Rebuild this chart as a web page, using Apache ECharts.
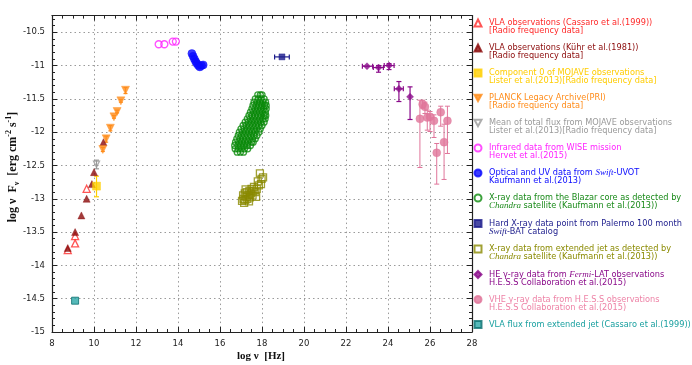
<!DOCTYPE html>
<html><head><meta charset="utf-8">
<script src="https://cdn.jsdelivr.net/npm/echarts@6/dist/echarts.min.js"></script>
<style>html,body{margin:0;padding:0;background:#fff}#c{width:692px;height:365px}</style>
</head><body><div id="c"></div>
<script>
// ---- data: [log nu, log nuFnu] ----
const cassaroData = [[8.75,-13.77],[9.1,-13.56],[9.1,-13.67],[9.65,-12.85]];
const kuhrData = [[8.75,-13.74],[9.1,-13.5],[9.4,-13.25],[9.65,-13.0],[9.9,-12.78],[10.0,-12.6],[10.45,-12.15]];
const mojaveCompData = [[10.12,-12.81]];
const mojaveCompErr = [[-12.97,-12.66]];
const planckData = [[10.42,-12.26],[10.58,-12.1],[10.78,-11.94],[10.95,-11.77],[11.1,-11.69],[11.28,-11.53],[11.5,-11.37]];
const planckErr = [[-12.29,-12.23],[-12.15,-12.06],[-11.98,-11.9],[-11.79,-11.75],[-11.71,-11.67],[-11.55,-11.51],[-11.42,-11.33]];
const mojaveMeanData = [[10.12,-12.48]];
const mojaveMeanErr = [[-12.55,-12.42]];
const wiseData = [[13.08,-10.68],[13.35,-10.68],[13.75,-10.64],[13.9,-10.64]];
const uvotData = [[14.66,-10.82],[14.72,-10.86],[14.78,-10.9],[14.84,-10.94],[14.9,-10.97],[14.97,-11.0],[15.04,-11.02],[15.12,-11.0],[15.2,-10.99]];
const chandraCoreData = [
 [17.8,-11.44],[17.92,-11.44],[18.0,-11.44],
 [17.68,-11.5],[17.82,-11.5],[17.96,-11.5],[18.1,-11.5],
 [17.62,-11.55],[17.76,-11.55],[17.9,-11.55],[18.04,-11.55],[18.17,-11.55],
 [17.57,-11.6],[17.72,-11.6],[17.86,-11.6],[18.0,-11.6],[18.12,-11.6],[18.2,-11.6],
 [17.52,-11.65],[17.66,-11.65],[17.8,-11.65],[17.95,-11.65],[18.08,-11.65],[18.2,-11.65],
 [17.45,-11.7],[17.6,-11.7],[17.74,-11.7],[17.88,-11.7],[18.02,-11.7],[18.16,-11.7],
 [17.38,-11.75],[17.52,-11.75],[17.67,-11.75],[17.82,-11.75],[17.96,-11.75],[18.1,-11.75],[18.18,-11.75],
 [17.3,-11.8],[17.45,-11.8],[17.6,-11.8],[17.75,-11.8],[17.9,-11.8],[18.04,-11.8],[18.15,-11.8],
 [17.2,-11.85],[17.35,-11.85],[17.5,-11.85],[17.65,-11.85],[17.8,-11.85],[17.95,-11.85],[18.1,-11.85],
 [17.1,-11.9],[17.25,-11.9],[17.4,-11.9],[17.55,-11.9],[17.7,-11.9],[17.85,-11.9],[18.0,-11.9],
 [17.0,-11.95],[17.15,-11.95],[17.3,-11.95],[17.45,-11.95],[17.6,-11.95],[17.75,-11.95],[17.92,-11.95],
 [16.92,-12.0],[17.07,-12.0],[17.22,-12.0],[17.37,-12.0],[17.52,-12.0],[17.67,-12.0],[17.85,-12.0],
 [16.87,-12.05],[17.02,-12.05],[17.17,-12.05],[17.32,-12.05],[17.47,-12.05],[17.62,-12.05],[17.76,-12.05],
 [16.8,-12.1],[16.95,-12.1],[17.1,-12.1],[17.25,-12.1],[17.4,-12.1],[17.55,-12.1],[17.68,-12.1],
 [16.74,-12.15],[16.89,-12.15],[17.04,-12.15],[17.19,-12.15],[17.34,-12.15],[17.5,-12.15],[17.58,-12.15],
 [16.7,-12.2],[16.85,-12.2],[17.0,-12.2],[17.15,-12.2],[17.3,-12.2],[17.45,-12.2],
 [16.72,-12.25],[16.87,-12.25],[17.02,-12.25],[17.17,-12.25],[17.32,-12.25],
 [16.82,-12.3],[16.97,-12.3],[17.12,-12.3]];
const batData = [[18.95,-10.87]];
const batErrX = [[18.6,19.3]];
const chandraJetData = [
 [17.05,-13.03],[17.12,-13.0],[17.1,-12.95],[17.2,-13.02],[17.18,-12.92],[17.25,-12.97],[17.3,-13.0],
 [17.28,-12.9],[17.35,-12.94],[17.4,-12.88],[17.42,-12.98],[17.48,-12.92],[17.5,-12.85],[17.55,-12.95],
 [17.6,-12.88],[17.62,-12.82],[17.68,-12.9],[17.72,-12.97],[17.75,-12.85],[17.15,-13.06],[17.22,-12.86],
 [17.38,-13.04],[17.8,-12.74],[17.9,-12.62],[17.95,-12.78],[18.05,-12.68],[17.98,-12.7],[17.85,-12.8]];
const fermiData = [[23.0,-11.01],[23.55,-11.03],[24.05,-11.0],[24.52,-11.35],[25.05,-11.47]];
const fermiErrX = [[22.78,23.27],[23.3,23.78],[23.82,24.29],[24.3,24.73],[null,null]];
const fermiErrY = [[null,null],[-11.1,-11.0],[-11.06,-10.97],[-11.54,-11.24],[-11.81,-11.32]];
const hessData = [[25.52,-11.8],[25.65,-11.58],[25.76,-11.62],[25.87,-11.78],[26.0,-11.77],[26.19,-11.83],[26.32,-12.31],[26.51,-11.7],[26.67,-12.15],[26.83,-11.83]];
const hessErr = [[-12.53,-11.52],[-11.64,-11.52],[-11.72,-11.55],[-11.97,-11.67],[-11.99,-11.69],[-12.08,-11.74],[-12.78,-12.17],[-11.91,-11.61],[-12.71,-11.88],[-12.32,-11.61]];
const vlaJetData = [[9.1,-14.53]];

const legendNames = ['cassaro','kuhr','mojaveComp','planck','mojaveMean','wise','uvot','chandraCore','bat','chandraJet','fermi','hess','vlaJet'];
const legendTexts = {
  cassaro: 'VLA observations (Cassaro et al.(1999))\n[Radio frequency data]',
  kuhr: 'VLA observations (Kühr et al.(1981))\n[Radio frequency data]',
  mojaveComp: 'Component 0 of MOJAVE observations\nLister et al.(2013)[Radio frequency data]',
  planck: 'PLANCK Legacy Archive(PRI)\n[Radio frequency data]',
  mojaveMean: 'Mean of total flux from MOJAVE observations\nLister et al.(2013)[Radio frequency data]',
  wise: 'Infrared data from WISE mission\nHervet et al.(2015)',
  uvot: 'Optical and UV data from {it|Swift}-UVOT\nKaufmann et al.(2013)',
  chandraCore: 'X-ray data from the Blazar core as detected by\n{it|Chandra} satellite (Kaufmann et al.(2013))',
  bat: 'Hard X-ray data point from Palermo 100 month\n{it|Swift}-BAT catalog',
  chandraJet: 'X-ray data from extended jet as detected by\n{it|Chandra} satellite (Kaufmann et al.(2013))',
  fermi: 'HE γ-ray data from {it|Fermi}-LAT observations\nH.E.S.S Collaboration et al.(2015)',
  hess: 'VHE γ-ray data from H.E.S.S observations\nH.E.S.S Collaboration et al.(2015)',
  vlaJet: 'VLA flux from extended jet (Cassaro et al.(1999))\n '
};
const colors = {
  cassaro:'#ff2a2a', kuhr:'#8b0a0a', mojaveComp:'#ffd000', planck:'#ff8c1a', mojaveMean:'#999999',
  wise:'#ff22ff', uvot:'#0a0aff', chandraCore:'#0a8a0a', bat:'#1c1c8c', chandraJet:'#8a8a00',
  fermi:'#8a0a8a', hess:'#e0759a', vlaJet:'#1aa0a0'
};
const textColors = Object.assign({}, colors, {mojaveComp:'#ffcc00', chandraCore:'#1a8a1a', hess:'#ee82a6', mojaveMean:'#9a9a9a'});

function mergeErr(pts, ex, ey) {
  return pts.map((p, i) => [p[0], p[1],
    ex && ex[i] ? ex[i][0] : null, ex && ex[i] ? ex[i][1] : null,
    ey && ey[i] ? ey[i][0] : null, ey && ey[i] ? ey[i][1] : null]);
}
function errSeries(name, data, color, cap, lw) {
  return {
    type: 'custom', name: name, xAxisIndex: 0, yAxisIndex: 0, data: data, z: 1,
    encode: {x: 0, y: 1},
    renderItem: function (params, api) {
      const x = api.value(0), y = api.value(1);
      const xlo = api.value(2), xhi = api.value(3), ylo = api.value(4), yhi = api.value(5);
      const ch = [];
      const st = {stroke: color, lineWidth: lw || 1.2};
      if (isFinite(ylo) && isFinite(yhi)) {
        const a = api.coord([x, ylo]), b = api.coord([x, yhi]);
        ch.push({type:'line', shape:{x1:a[0],y1:a[1],x2:b[0],y2:b[1]}, style: st});
        ch.push({type:'line', shape:{x1:a[0]-cap,y1:a[1],x2:a[0]+cap,y2:a[1]}, style: st});
        ch.push({type:'line', shape:{x1:b[0]-cap,y1:b[1],x2:b[0]+cap,y2:b[1]}, style: st});
      }
      if (isFinite(xlo) && isFinite(xhi)) {
        const a = api.coord([xlo, y]), b = api.coord([xhi, y]);
        ch.push({type:'line', shape:{x1:a[0],y1:a[1],x2:b[0],y2:b[1]}, style: st});
        ch.push({type:'line', shape:{x1:a[0],y1:a[1]-cap,x2:a[0],y2:a[1]+cap}, style: st});
        ch.push({type:'line', shape:{x1:b[0],y1:b[1]-cap,x2:b[0],y2:b[1]+cap}, style: st});
      }
      return {type:'group', children: ch};
    }
  };
}
function scat(name, data, symbol, size, filled, extra) {
  const c = colors[name];
  const s = {
    type: 'scatter', name: name, data: data, symbol: symbol, symbolSize: size, z: 3,
    xAxisIndex: 0, yAxisIndex: 0,
    itemStyle: filled ? {color: c, borderColor: c, borderWidth: 0.5} : {color: 'rgba(0,0,0,0)', borderColor: c, borderWidth: 1.3},
    emphasis: {disabled: true}
  };
  return Object.assign(s, extra || {});
}

const axisFont = {fontFamily: 'DejaVu Sans', fontSize: 8.5, color: '#222'};
const frameLine = {show: true, lineStyle: {color: '#222', width: 1.2}};
const gridLine = {show: true, lineStyle: {color: '#9a9a9a', width: 1, type: [1.5, 3]}};
const downTri = 'path://M0,0 L10,0 L5,9 Z';

const chart = echarts.init(document.getElementById('c'), null, {renderer: 'canvas'});
chart.setOption({
  animation: false,
  backgroundColor: '#fff',
  grid: [
    {left: 52, right: 220, top: 15.6, bottom: 33},
    {left: 52, right: 220, top: 15.6, bottom: 33}
  ],
  xAxis: [
    {type:'value', gridIndex:0, position:'bottom', min:8, max:28, interval:2,
     axisLine: frameLine, axisTick:{inside:true, length:5, lineStyle:{color:'#222'}},
     minorTick:{show:true, splitNumber:4, length:3, lineStyle:{color:'#222'}},
     axisLabel: Object.assign({margin:7}, axisFont), splitLine: gridLine},
    {type:'value', gridIndex:0, position:'top', min:8, max:28, interval:2,
     axisLine: frameLine, axisTick:{inside:true, length:5, lineStyle:{color:'#222'}},
     minorTick:{show:true, splitNumber:4, length:3, lineStyle:{color:'#222'}},
     axisLabel:{show:false}, splitLine:{show:false}},
    {type:'value', gridIndex:1, min:8, max:28, interval:2, show:false}
  ],
  yAxis: [
    {type:'value', gridIndex:0, position:'left', min:-15, max:-10.25, interval:0.5,
     axisLine: frameLine, axisTick:{inside:true, length:5, lineStyle:{color:'#222'}},
     axisLabel: Object.assign({margin:7, showMaxLabel:false}, axisFont), splitLine: gridLine},
    {type:'value', gridIndex:0, position:'right', min:-15, max:-10.25, interval:0.5,
     axisLine: frameLine, axisTick:{inside:true, length:5, lineStyle:{color:'#222'}},
     axisLabel:{show:false}, splitLine:{show:false}},
    {type:'value', gridIndex:1, position:'left', min:-15, max:-10.25, interval:0.1,
     axisLine:{show:false}, axisTick:{inside:true, length:3, lineStyle:{color:'#222'}},
     axisLabel:{show:false}, splitLine:{show:false}},
    {type:'value', gridIndex:1, position:'right', min:-15, max:-10.25, interval:0.1,
     axisLine:{show:false}, axisTick:{inside:true, length:3, lineStyle:{color:'#222'}},
     axisLabel:{show:false}, splitLine:{show:false}}
  ],
  legend: {
    orient: 'vertical', left: 473.5, top: 11, padding: 0,
    itemWidth: 7, itemHeight: 7, itemGap: 1, selectedMode: false,
    textStyle: {fontFamily: 'DejaVu Sans', fontSize: 8.2, lineHeight: 8, padding: [8, 0, 0, 2.5],
      rich: {it: {fontFamily: 'Liberation Serif', fontStyle: 'italic', fontSize: 9, lineHeight: 8}}},
    formatter: function (n) { return legendTexts[n]; },
    data: legendNames.map(function (n) {
      const d = {name: n, textStyle: {color: textColors[n]}};
      if (n === 'planck' || n === 'mojaveMean') d.icon = downTri;
      return d;
    })
  },
  graphic: [
    {type:'text', x: 13, y: 167, rotation: Math.PI/2,
     style: {text: 'log ν  F{sub|ν}  [erg cm{sup|-2} s{sup|-1}]', fill: '#111',
       font: 'bold 12px "Liberation Serif"', lineHeight: 16, align: 'center', verticalAlign: 'middle',
       rich: {sub: {font: 'bold 8px "Liberation Serif"', verticalAlign: 'bottom', lineHeight: 14},
              sup: {font: 'bold 8px "Liberation Serif"', verticalAlign: 'top', lineHeight: 16}}}},
    {type:'text', x: 261, y: 356,
     style: {text: 'log ν  [Hz]', fill: '#111', font: 'bold 11px "Liberation Serif"', align: 'center', verticalAlign: 'middle'}}
  ],
  series: [
    errSeries('e_mojaveComp', mergeErr(mojaveCompData, null, mojaveCompErr), colors.mojaveComp, 2.5),
    errSeries('e_planck', mergeErr(planckData, null, planckErr), colors.planck, 2),
    errSeries('e_mojaveMean', mergeErr(mojaveMeanData, null, mojaveMeanErr), colors.mojaveMean, 2.5),
    errSeries('e_bat', mergeErr(batData, batErrX, null), colors.bat, 2.5),
    errSeries('e_fermi', mergeErr(fermiData, fermiErrX, fermiErrY), colors.fermi, 2.5),
    errSeries('e_hess', mergeErr(hessData, null, hessErr), colors.hess, 2.5, 1),
    scat('cassaro', cassaroData, 'triangle', 7, false),
    scat('kuhr', kuhrData, 'triangle', 7, true),
    scat('mojaveComp', mojaveCompData, 'rect', 8, true),
    scat('planck', planckData, 'triangle', 8, true, {symbolRotate: 180}),
    scat('mojaveMean', mojaveMeanData, 'triangle', 6, false, {symbolRotate: 180}),
    scat('wise', wiseData, 'circle', 7, false),
    scat('uvot', uvotData, 'circle', 8, true),
    scat('chandraCore', chandraCoreData, 'circle', 6, false),
    scat('bat', batData, 'rect', 6, true),
    scat('chandraJet', chandraJetData, 'rect', 7, false),
    scat('fermi', fermiData, 'diamond', 7, true),
    scat('hess', hessData, 'circle', 8, true),
    scat('vlaJet', vlaJetData, 'rect', 7, true, {itemStyle: {color: '#2aa8a8', borderColor: '#0a6f6f', borderWidth: 1}})
  ]
});
</script></body></html>
